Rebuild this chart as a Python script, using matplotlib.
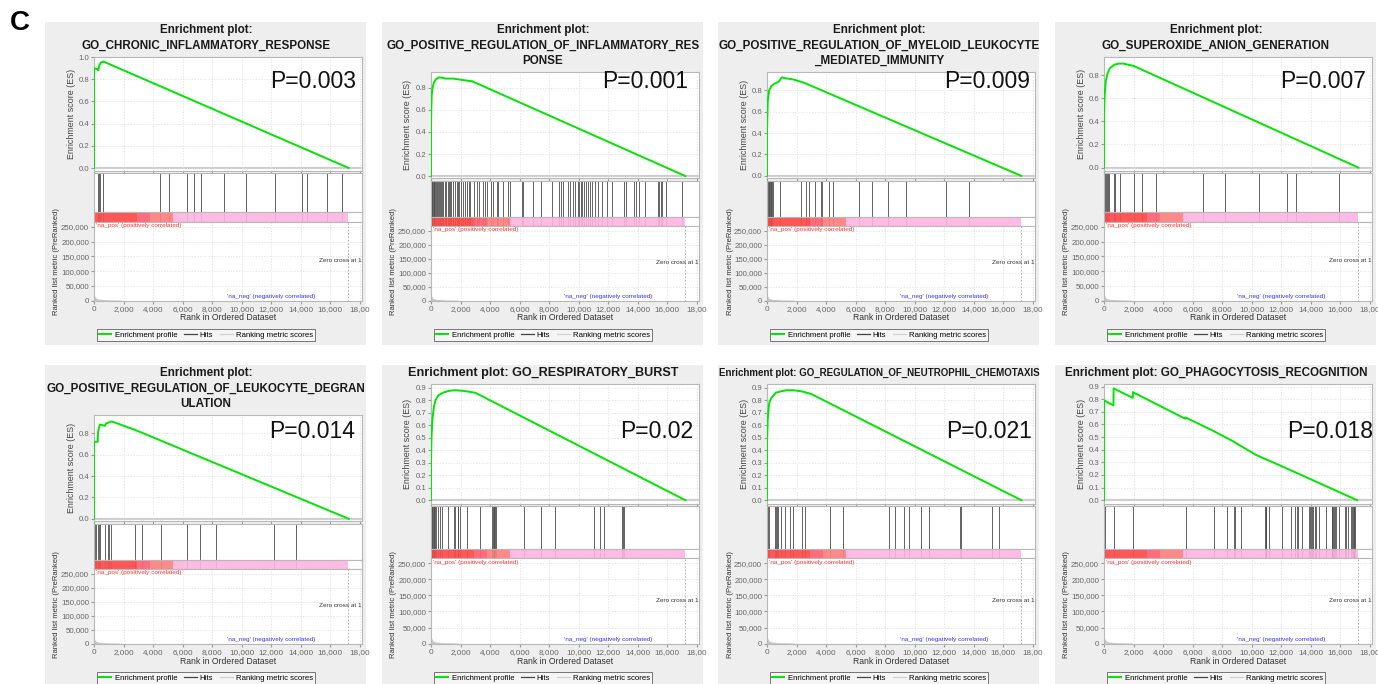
import numpy as np
import matplotlib.pyplot as plt
from matplotlib.patches import Rectangle
from matplotlib.lines import Line2D

plt.rcParams['font.family'] = ['Liberation Sans', 'DejaVu Sans']

# ---------------- data ----------------
titles = [
    ["Enrichment plot:", "GO_CHRONIC_INFLAMMATORY_RESPONSE"],
    ["Enrichment plot:", "GO_POSITIVE_REGULATION_OF_INFLAMMATORY_RES", "PONSE"],
    ["Enrichment plot:", "GO_POSITIVE_REGULATION_OF_MYELOID_LEUKOCYTE", "_MEDIATED_IMMUNITY"],
    ["Enrichment plot:", "GO_SUPEROXIDE_ANION_GENERATION"],
    ["Enrichment plot:", "GO_POSITIVE_REGULATION_OF_LEUKOCYTE_DEGRAN", "ULATION"],
    ["Enrichment plot: GO_RESPIRATORY_BURST"],
    ["Enrichment plot: GO_REGULATION_OF_NEUTROPHIL_CHEMOTAXIS"],
    ["Enrichment plot: GO_PHAGOCYTOSIS_RECOGNITION"],
]
pvals = ["P=0.003", "P=0.001", "P=0.009", "P=0.007", "P=0.014", "P=0.02", "P=0.021", "P=0.018"]

# running enrichment score (rank, ES)
es1_x = [0, 5, 230, 300, 340, 430, 450, 600, 620, 17250]
es1_y = [0, 0.90, 0.89, 0.88, 0.92, 0.94, 0.95, 0.955, 0.96, 0.0]
es2_x = [0, 0, 20, 50, 100, 200, 350, 500, 700, 1000, 1500, 2000, 2800, 17220]
es2_y = [0, 0.42, 0.62, 0.74, 0.80, 0.85, 0.88, 0.895, 0.895, 0.885, 0.885, 0.875, 0.86, 0.0]
es3_x = [0, 0, 50, 150, 300, 500, 800, 1000, 1300, 1800, 2500, 17220]
es3_y = [0, 0.40, 0.70, 0.80, 0.84, 0.86, 0.88, 0.92, 0.91, 0.90, 0.87, 0.0]
es4_x = [0, 0, 40, 120, 250, 400, 700, 1000, 1300, 2000, 17220]
es4_y = [0, 0.45, 0.62, 0.75, 0.82, 0.86, 0.89, 0.90, 0.90, 0.88, 0.0]
es5_x = [0, 0, 250, 270, 330, 400, 750, 800, 1000, 1200, 2800, 17260]
es5_y = [0, 0.72, 0.72, 0.80, 0.85, 0.88, 0.87, 0.89, 0.90, 0.91, 0.83, 0.0]
es6_x = [0, 0, 30, 100, 200, 300, 500, 800, 1200, 1600, 2200, 3000, 17230]
es6_y = [0, 0.30, 0.50, 0.65, 0.75, 0.80, 0.84, 0.86, 0.875, 0.88, 0.875, 0.86, 0.0]
es7_x = [0, 0, 50, 150, 300, 600, 900, 1300, 1800, 2400, 3000, 17230]
es7_y = [0, 0.45, 0.65, 0.78, 0.82, 0.86, 0.87, 0.88, 0.88, 0.87, 0.85, 0.0]
es8_x = [0, 5, 640, 650, 1950, 1960, 5500, 5520, 7332, 8686, 10265, 12500, 17146]
es8_y = [0, 0.79, 0.75, 0.885, 0.81, 0.855, 0.645, 0.655, 0.553, 0.47, 0.36, 0.245, 0.0]

# hit positions (rank of gene-set members)
hits1 = [271, 339, 429, 610, 4448, 5058, 6322, 6774, 7226, 8806, 10320, 12260, 14113, 14429, 15784, 16800]
hits2 = [45, 90, 135, 180, 225, 270, 338, 383, 450, 518, 585, 675, 743, 833, 923, 1013, 1125, 1215,
         1283, 1373, 1463, 1598, 1733, 1823, 1913, 2048, 2183, 2318, 2430, 2543, 2633, 2903, 3083,
         3263, 3488, 3668, 3825, 4095, 4185, 4455, 4568, 4883, 5243, 5378, 6143, 6255, 6930, 7425,
         8213, 8685, 8820, 8910, 9293, 9405, 9585, 9743, 9968, 10013, 10125, 10260, 10395, 10530,
         10643, 10800, 10935, 11093, 11295, 11565, 11903, 12263, 13095, 13208, 13725, 13883, 14085,
         14513, 15368, 15435, 15548, 15660, 15908, 16988]
hits3 = [45, 113, 158, 203, 248, 293, 338, 383, 902, 2278, 2662, 2843, 3271, 3632, 3722, 4174, 4489,
         6204, 7129, 8212, 9430, 12137, 13694]
hits4 = [45, 113, 180, 248, 361, 677, 744, 1083, 2008, 2572, 3519, 6723, 8212, 10468, 12385, 12972, 15882]
hits5 = [45, 135, 271, 316, 383, 722, 925, 1015, 1150, 2775, 3271, 4512, 6272, 7152, 8234, 12182, 13694]
hits6 = [45, 90, 135, 180, 226, 271, 338, 496, 586, 767, 1150, 1534, 1624, 1805, 1850, 1963, 2414,
         3316, 4151, 4196, 4241, 4286, 4354, 4399, 6272, 7445, 8370, 11032, 11416, 11709, 12927,
         12995, 13085]
hits7 = [45, 135, 564, 632, 677, 745, 948, 1218, 1579, 1737, 2369, 2594, 4241, 5121, 8280, 8686,
         9272, 9633, 10423, 10964, 13085, 13130, 15205, 15724]
hits8 = [45, 654, 1963, 5527, 7445, 8302, 8799, 8866, 9295, 10897, 10942, 10987, 11190, 12047,
         12634, 12950, 13040, 13130, 13424, 13897, 13942, 13988, 14055, 14145, 14280, 14370, 14528,
         15002, 15408, 15453, 15498, 15566, 15611, 15724, 15882, 16288, 16423, 16536, 16761, 16829,
         16874, 16919, 16964, 17032]

es_x = [es1_x, es2_x, es3_x, es4_x, es5_x, es6_x, es7_x, es8_x]
es_y = [es1_y, es2_y, es3_y, es4_y, es5_y, es6_y, es7_y, es8_y]
hits = [hits1, hits2, hits3, hits4, hits5, hits6, hits7, hits8]

es_ticks = [[0, .2, .4, .6, .8, 1.0]] + [[0, .2, .4, .6, .8]] * 4 + [[round(0.1 * i, 1) for i in range(10)]] * 3
es_lims = [(-0.027, 1.0), (-0.018, 0.945), (-0.02, 0.97), (-0.03, 0.957),
           (-0.02, 0.97), (-0.03, 0.93), (-0.03, 0.93), (-0.03, 0.92)]

# ranked list metric (same list for every panel)
metric_rank = [0, 30, 80, 150, 300, 600, 1000, 1500, 1850, 1900, 17213]
metric_val = [27000, 18000, 12000, 8000, 5000, 3500, 2500, 2000, 1500, 0, 0]
metric_ticks = [0, 50000, 100000, 150000, 200000, 250000]
rank_ticks = [0, 2000, 4000, 6000, 8000, 10000, 12000, 14000, 16000, 18000]
rank_labels = ["0", "2,000", "4,000", "6,000", "8,000", "10,000", "12,000", "14,000", "16,000", "18,00"]
zero_cross = 17213

# colour bar of the ranked list
bar_edges = [0, 2900, 3800, 5350, 17213]
bar_colors = ['#ff5656', '#ff6c7c', '#ff8888', '#ffbbe3']

# ---------------- layout (pixels) ----------------
W, H = 1378, 684
fig = plt.figure(figsize=(W / 100, H / 100), dpi=100)

def rect(l, t, r, b):
    return [l / W, 1 - b / H, (r - l) / W, (b - t) / H]

box_left = [45, 382, 718, 1055] * 2
row_off = [0] * 4 + [343] * 4
p_right = [356, 688, 1030, 1366, 355, 693, 1032, 1373]
p_y = [82, 82, 82, 82, 89, 89, 89, 89]
title_size = [8.4, 8.4, 8.4, 8.4, 8.4, 9.1, 7.05, 8.4]
# es top, es bottom, hits top, bar top, bar bottom  (by number of title lines)
LAYOUT = {1: (41, 161, 163, 206, 215), 2: (57, 171, 173, 212, 222), 3: (72, 178, 181, 217, 226)}

XMAX = 18150
GREEN = '#00e600'
TICKC = '#666666'
SPINE = '#b8b8b8'

fig.text(10 / W, 1 - 23 / H, "C", fontsize=20, fontweight='bold', va='center', ha='left')


def style(ax):
    for s in ax.spines.values():
        s.set_color(SPINE)
        s.set_linewidth(0.8)


for i in range(8):
    bl, ro = box_left[i], row_off[i]
    nl = len(titles[i])
    es_t, es_b, h_t, b_t, b_b = LAYOUT[nl]
    L, R = bl + 49, bl + 317

    fig.patches.append(Rectangle((bl / W, 1 - (ro + 345) / H), 321 / W, 323 / H,
                                 transform=fig.transFigure, facecolor='#eeeeee',
                                 edgecolor='none', zorder=-10))
    for k, line in enumerate(titles[i]):
        fig.text((bl + 161) / W, 1 - (ro + 30 + 15.5 * k) / H, line, fontsize=title_size[i],
                 fontweight='bold', ha='center', va='center', color='#1a1a1a')

    # enrichment score
    ax = fig.add_axes(rect(L, ro + es_t, R, ro + es_b))
    style(ax)
    ax.set_xlim(0, XMAX)
    ax.set_ylim(*es_lims[i])
    ax.set_xticks(rank_ticks)
    ax.set_xticklabels([])
    ax.set_yticks(es_ticks[i])
    ax.set_yticklabels([f"{v:.1f}" for v in es_ticks[i]])
    ax.tick_params(axis='both', length=2, color='#999999', labelsize=5.6, labelcolor=TICKC, pad=1.5)
    ax.grid(True, color='#dddddd', lw=0.5, ls=(0, (2, 2)))
    ax.axhline(0, color='#cccccc', lw=1.5, zorder=1)
    ax.plot(es_x[i], es_y[i], color=GREEN, lw=1.4, zorder=3)
    fig.text(p_right[i] / W, 1 - (ro + p_y[i]) / H, pvals[i], fontsize=16.5,
             ha='right', va='center', color='#111111')
    fig.text((bl + 26) / W, 1 - (ro + (es_t + es_b) / 2) / H, "Enrichment score (ES)",
             rotation=90, fontsize=6.4, ha='center', va='center', color='#444444')

    # hits
    hx = fig.add_axes(rect(L, ro + h_t, R, ro + b_t))
    style(hx)
    hx.set_xlim(0, XMAX)
    hx.set_ylim(0, 1)
    hx.set_xticks([])
    hx.set_yticks([])
    hx.vlines(hits[i], 0, 1, color='#4a4a4a', lw=0.6)

    # ranked list colour bar
    bx = fig.add_axes(rect(L, ro + b_t, R, ro + b_b))
    style(bx)
    bx.set_xlim(0, XMAX)
    bx.set_ylim(0, 1)
    bx.set_xticks([])
    bx.set_yticks([])
    bx.barh(0.5, np.diff(bar_edges), left=bar_edges[:-1], height=1, color=bar_colors)
    bx.vlines(hits[i], 0, 1, color='#000000', lw=0.5, alpha=0.1)

    # ranked list metric
    mx = fig.add_axes(rect(L, ro + b_b, R, ro + 301))
    style(mx)
    mx.set_xlim(0, XMAX)
    mx.set_ylim(-1500, 267000)
    mx.set_yticks(metric_ticks)
    mx.set_yticklabels([f"{v:,}" for v in metric_ticks])
    mx.set_xticks(rank_ticks)
    mx.set_xticklabels(rank_labels)
    mx.tick_params(axis='both', length=2, color='#999999', labelcolor=TICKC, pad=1.5)
    mx.tick_params(axis='y', labelsize=5.7)
    mx.tick_params(axis='x', labelsize=5.9)
    mx.grid(True, color='#dddddd', lw=0.5, ls=(0, (2, 2)))
    mx.fill_between(metric_rank, metric_val, 0, color='#c8c8c8', lw=0)
    mx.axvline(zero_cross, color='#aaaaaa', lw=0.6, ls=(0, (2, 2)))
    mx.text(150, 262000, "'na_pos' (positively correlated)", fontsize=4.6, color='#ff3333',
            ha='left', va='top')
    mx.text(18100, 135000, "Zero cross at 1", fontsize=4.6, color='#333333',
            ha='right', va='center')
    mx.text(9000, 4000, "'na_neg' (negatively correlated)", fontsize=4.6, color='#3333ff',
            ha='left', va='bottom')
    fig.text((L + R) / 2 / W, 1 - (ro + 318) / H, "Rank in Ordered Dataset", fontsize=6.2,
             ha='center', va='center', color='#333333')
    fig.text((bl + 12) / W, 1 - (ro + 262) / H, "Ranked list metric (PreRanked)", rotation=90,
             fontsize=5.5, ha='center', va='center', color='#333333')

    handles = [Line2D([], [], color=GREEN, lw=1.4), Line2D([], [], color='#444444', lw=0.9),
               Line2D([], [], color='#d0d0d0', lw=0.9)]
    leg = fig.legend(handles, ["Enrichment profile", "Hits", "Ranking metric scores"],
                     loc='center', bbox_to_anchor=((bl + 161) / W, 1 - (ro + 335) / H),
                     ncol=3, fontsize=5.6, frameon=True, fancybox=False, handlelength=1.6,
                     handletextpad=0.4, columnspacing=0.9, borderpad=0.3, edgecolor='#555555')
    leg.get_frame().set_linewidth(0.7)
    leg.get_frame().set_facecolor('#f8f8f8')

fig.savefig("out.png", dpi=100, facecolor='white')
